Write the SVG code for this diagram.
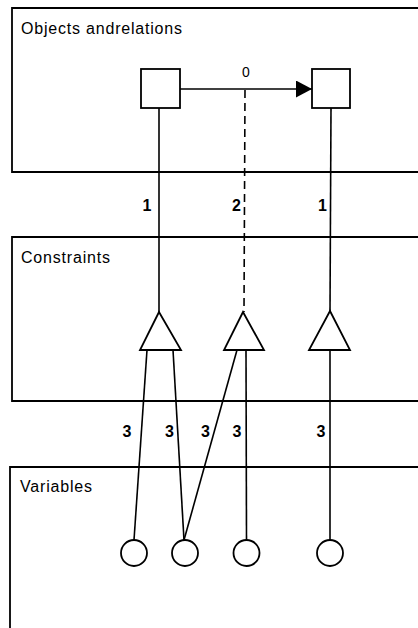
<svg xmlns="http://www.w3.org/2000/svg" width="418" height="628" viewBox="0 0 418 628">
<defs>
<marker id="arrow" markerUnits="userSpaceOnUse" markerWidth="17" markerHeight="17" refX="16" refY="8.5" orient="auto">
<path d="M0,0 L16,8.5 L0,17 Z" fill="#000"/>
</marker>
<style>
.panel{fill:none;stroke:#000;stroke-width:1.8}
.title{font-family:"Liberation Sans",Arial,sans-serif;font-size:16px;fill:#000}
.num{font-family:"Liberation Sans",Arial,sans-serif;font-size:16px;font-weight:bold;fill:#000;text-anchor:middle}
.shape{fill:#fff;stroke:#000;stroke-width:1.8}
.line{fill:none;stroke:#000;stroke-width:1.6}
.dash{fill:none;stroke:#000;stroke-width:1.6;stroke-dasharray:8 5}
</style>
</defs>
<rect width="418" height="628" fill="#fff"/>
<g id="panel-objects">
<path class="panel" d="M430,8 H12 V172 H430"/>
<text class="title" x="21" y="34" textLength="161" lengthAdjust="spacing">Objects andrelations</text>
</g>
<g id="panel-constraints">
<path class="panel" d="M430,237 H12 V401 H430"/>
<text class="title" x="21" y="263" textLength="89" lengthAdjust="spacing">Constraints</text>
</g>
<g id="panel-variables">
<path class="panel" d="M430,467 H10 V640"/>
<text class="title" x="20" y="492" textLength="72" lengthAdjust="spacing">Variables</text>
</g>
<g id="connectors">
<line class="line" x1="180" y1="89" x2="312" y2="89" marker-end="url(#arrow)"/>
<line class="dash" x1="245" y1="90" x2="244" y2="312"/>
<line class="line" x1="159" y1="108" x2="159" y2="312"/>
<line class="line" x1="331" y1="108" x2="330" y2="311"/>
<line class="line" x1="147" y1="350" x2="134" y2="540"/>
<line class="line" x1="173" y1="350" x2="184" y2="540"/>
<line class="line" x1="237" y1="350" x2="184" y2="540"/>
<line class="line" x1="246" y1="350" x2="246.5" y2="540"/>
<line class="line" x1="330" y1="350" x2="330" y2="540"/>
<text class="num" x="246" y="77" style="font-size:14px;font-weight:normal">0</text>
<text class="num" x="147" y="211">1</text>
<text class="num" x="236.5" y="211">2</text>
<text class="num" x="322.5" y="211">1</text>
<text class="num" x="127" y="437">3</text>
<text class="num" x="169.5" y="437">3</text>
<text class="num" x="205.5" y="437">3</text>
<text class="num" x="237" y="437">3</text>
<text class="num" x="321" y="437">3</text>
</g>
<g id="obj-a"><rect class="shape" x="141" y="69" width="39" height="39"/></g>
<g id="obj-b"><rect class="shape" x="312" y="69" width="38" height="39"/></g>
<g id="con-a"><polygon class="shape" points="159,312 181,350 140,350"/></g>
<g id="con-b"><polygon class="shape" points="243,312 264,350 224,350"/></g>
<g id="con-c"><polygon class="shape" points="330,311 350,350 309,350"/></g>
<g id="var-a"><circle class="shape" cx="134" cy="553" r="13"/></g>
<g id="var-b"><circle class="shape" cx="185" cy="553" r="13"/></g>
<g id="var-c"><circle class="shape" cx="246.5" cy="553" r="13"/></g>
<g id="var-d"><circle class="shape" cx="330" cy="553" r="13"/></g>
</svg>
